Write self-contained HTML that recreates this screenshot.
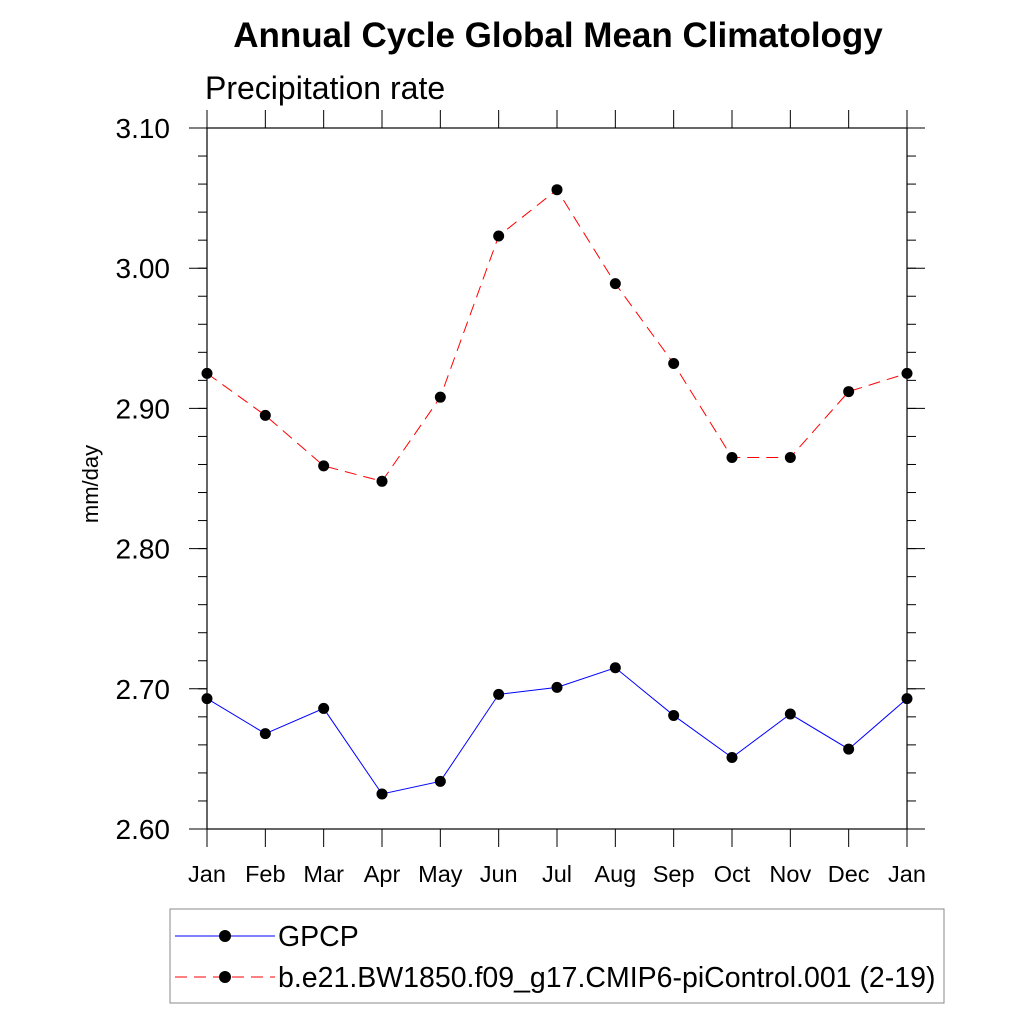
<!DOCTYPE html>
<html><head><meta charset="utf-8"><style>
body{margin:0;background:#fff;}
svg{display:block;font-family:"Liberation Sans",sans-serif;}
</style></head><body>
<svg id="chart" width="1024" height="1024" viewBox="0 0 1024 1024">
<text x="558" y="47" text-anchor="middle" font-size="35" font-weight="bold">Annual Cycle Global Mean Climatology</text>
<text x="205" y="99" font-size="32">Precipitation rate</text>
<text transform="translate(98,484) rotate(-90)" text-anchor="middle" font-size="22">mm/day</text>
<g id="axes"></g>
<g id="series"></g>
<rect x="170" y="909" width="774" height="94" fill="none" stroke="#888" stroke-width="1"/>
<g>
<line x1="175" y1="936" x2="275" y2="936" stroke="#00f" stroke-width="1"/>
<circle cx="225" cy="936" r="6"/>
<text x="278" y="946" font-size="28.5">GPCP</text>
</g>
<g>
<line x1="175" y1="977" x2="275" y2="977" stroke="#f00" stroke-width="1" stroke-dasharray="12,7"/>
<circle cx="225" cy="977" r="6"/>
<text x="278" y="987" font-size="28.5">b.e21.BW1850.f09_g17.CMIP6-piControl.001 (2-19)</text>
</g>
</svg>
<script>
const months=["Jan","Feb","Mar","Apr","May","Jun","Jul","Aug","Sep","Oct","Nov","Dec","Jan"];
const gpcp=[2.693,2.668,2.686,2.625,2.634,2.696,2.701,2.715,2.681,2.651,2.682,2.657,2.693];
const model=[2.925,2.895,2.859,2.848,2.908,3.023,3.056,2.989,2.932,2.865,2.865,2.912,2.925];
const yTicks=[2.60,2.70,2.80,2.90,3.00,3.10];
const yMin=2.6,yMax=3.1,L=207,R=907,T=128,B=829;
const NS="http://www.w3.org/2000/svg";
const xs=i=>L+(R-L)*i/(months.length-1);
const ys=v=>B-(v-yMin)/(yMax-yMin)*(B-T);
const ax=document.getElementById('axes'),se=document.getElementById('series');
function mk(t,a,p){const e=document.createElementNS(NS,t);for(const k in a)e.setAttribute(k,a[k]);p.appendChild(e);return e;}
let f=mk('rect',{x:L,y:T,width:R-L,height:B-T,fill:'none',stroke:'#000','stroke-width':1.2},ax);


mk('line',{x1:189,y1:T,x2:925,y2:T,stroke:'#000'},ax);
mk('line',{x1:189,y1:B,x2:925,y2:B,stroke:'#000'},ax);
mk('line',{x1:L,y1:110,x2:L,y2:847,stroke:'#000'},ax);
mk('line',{x1:R,y1:110,x2:R,y2:847,stroke:'#000'},ax);
months.forEach((m,i)=>{const x=xs(i);
mk('line',{x1:x,y1:110,x2:x,y2:T,stroke:'#000'},ax);
mk('line',{x1:x,y1:B,x2:x,y2:847,stroke:'#000'},ax);
const t=mk('text',{x:x,y:882,'text-anchor':'middle','font-size':23.5},ax);t.textContent=m;


});
for(let v=yMin;v<=yMax+1e-9;v+=0.02){const y=ys(v);
mk('line',{x1:L-9,y1:y,x2:L,y2:y,stroke:'#000'},ax);
mk('line',{x1:R,y1:y,x2:R+9,y2:y,stroke:'#000'},ax);}
yTicks.forEach(v=>{const y=ys(v);
mk('line',{x1:189,y1:y,x2:L,y2:y,stroke:'#000'},ax);
mk('line',{x1:R,y1:y,x2:925,y2:y,stroke:'#000'},ax);
const t=mk('text',{x:170,y:y+10,'text-anchor':'end','font-size':28},ax);t.textContent=v.toFixed(2);


});
function draw(arr,col,dash,name){
const p=mk('polyline',{points:arr.map((v,i)=>xs(i)+','+ys(v)).join(' '),fill:'none',stroke:col,'stroke-width':1,'stroke-dasharray':dash},se);


arr.forEach((v,i)=>{const c=mk('circle',{cx:xs(i),cy:ys(v),r:5.5,fill:'#000'},se);

});
}
draw(gpcp,'#00f','none','gpcp');
draw(model,'#f00','12,7','model');
</script>
</body></html>
